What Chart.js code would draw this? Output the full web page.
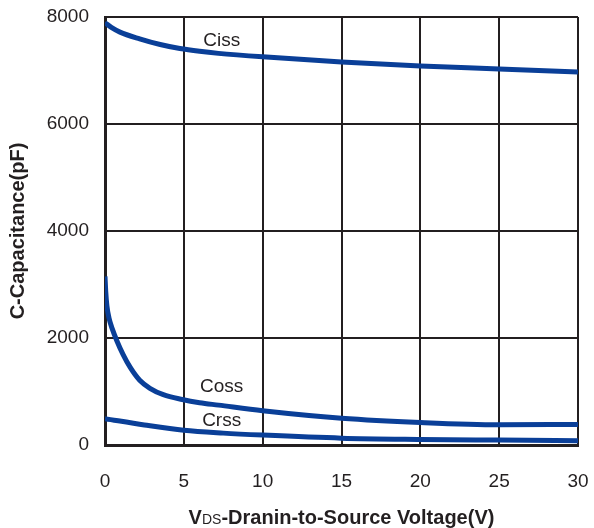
<!DOCTYPE html>
<html>
<head>
<meta charset="utf-8">
<script src="https://cdn.jsdelivr.net/npm/chart.js@4.4.1/dist/chart.umd.min.js"></script>
<style>
  html, body { margin: 0; padding: 0; background: #fff; }
  #wrap { width: 594px; height: 528px; }
</style>
</head>
<body>
<div id="wrap"><canvas id="capChart" width="594" height="528"></canvas></div>
<script>
// Capacitance vs drain-source voltage
const vdsTicks = [0, 5, 10, 15, 20, 25, 30]
const pfTicks = [0, 2000, 4000, 6000, 8000]

const cissV  = [0, 0.4, 0.95, 2.2, 3.5, 4.75, 6, 7.2, 10, 15, 20, 25, 30]
const cissPF = [7895, 7805, 7718, 7592, 7485, 7410, 7358, 7320, 7255, 7160, 7085, 7030, 6970]

const cossV  = [0, 0.05, 0.12, 0.25, 0.45, 0.75, 1.15, 1.6, 2.2, 2.85, 3.7, 4.9, 6, 7.2, 10, 15, 20, 25, 30]
const cossPF = [3150, 2850, 2600, 2380, 2180, 1950, 1690, 1450, 1210, 1060, 940, 850, 790, 745, 640, 500, 420, 378, 385]

const crssV  = [0, 2.5, 5, 7.5, 10, 15, 20, 25, 30]
const crssPF = [492, 375, 275, 222, 185, 128, 105, 92, 80]

const curveNames = ['Ciss', 'Coss', 'Crss']
const curveLabelV = [7.4, 7.4, 7.4]
const curveLabelPF = [7560, 1090, 450]

const ink = '#231f20'
const lineBlue = '#0a3f98'
const fontFamily = '"Liberation Sans", Arial, Helvetica, sans-serif'

function points(xs, ys) {
  return xs.map((v, i) => ({ x: v, y: ys[i] }))
}

function curve(data) {
  return {
    data,
    borderColor: lineBlue,
    borderWidth: 5,
    pointRadius: 0,
    fill: false,
    cubicInterpolationMode: 'monotone'
  }
}

// Curve names plus both axis titles (x title has the small "DS" part)
const annotations = {
  id: 'annotations',
  afterDraw(chart) {
    const { ctx, scales: { x, y }, chartArea } = chart
    ctx.save()
    ctx.fillStyle = ink
    ctx.textAlign = 'center'
    ctx.textBaseline = 'middle'
    ctx.font = '19px ' + fontFamily
    curveNames.forEach((name, i) => {
      ctx.fillText(name, x.getPixelForValue(curveLabelV[i]), y.getPixelForValue(curveLabelPF[i]))
    })

    // y title
    ctx.save()
    ctx.translate(18, (chartArea.top + chartArea.bottom) / 2)
    ctx.rotate(-Math.PI / 2)
    ctx.font = 'bold 20px ' + fontFamily
    ctx.fillText('C-Capacitance(pF)', 0, 0)
    ctx.restore()

    // x title
    const parts = [
      { t: 'V', f: 'bold 20px ' + fontFamily },
      { t: 'DS', f: '14px ' + fontFamily },
      { t: '-Dranin-to-Source Voltage(V)', f: 'bold 20px ' + fontFamily }
    ]
    let total = 0
    parts.forEach(p => { ctx.font = p.f; p.w = ctx.measureText(p.t).width; total += p.w })
    let px = (chartArea.left + chartArea.right) / 2 - total / 2
    ctx.textAlign = 'left'
    ctx.textBaseline = 'alphabetic'
    parts.forEach(p => {
      ctx.font = p.f
      ctx.fillText(p.t, px, 524)
      px += p.w
    })
    ctx.restore()
  }
}

new Chart(document.getElementById('capChart'), {
  type: 'line',
  data: {
    datasets: [
      curve(points(cissV, cissPF)),
      curve(points(cossV, cossPF)),
      curve(points(crssV, crssPF))
    ]
  },
  options: {
    responsive: false,
    animation: false,
    devicePixelRatio: 1,
    layout: { padding: { left: 0, top: 17, right: 16, bottom: 0 } },
    plugins: {
      legend: { display: false },
      tooltip: { enabled: false }
    },
    scales: {
      x: {
        type: 'linear',
        min: 0,
        max: 30,
        afterBuildTicks: s => { s.ticks = vdsTicks.map(v => ({ value: v })) },
        afterFit: s => {
          s.height = 83
          s.paddingLeft = 0
          s.paddingRight = 0
        },
        ticks: { color: ink, font: { size: 19, family: fontFamily }, padding: 25, maxRotation: 0, callback: v => String(v) },
        grid: { color: ink, lineWidth: 2, drawTicks: false },
        border: { color: ink, width: 3 }
      },
      y: {
        type: 'linear',
        min: 0,
        max: 8000,
        afterBuildTicks: s => { s.ticks = pfTicks.map(v => ({ value: v })) },
        afterFit: s => {
          s.width = 105
          s.paddingTop = 0
          s.paddingBottom = 0
        },
        ticks: { color: ink, font: { size: 19, family: fontFamily }, padding: 16, callback: v => String(v) },
        grid: { color: ink, lineWidth: 2, drawTicks: false },
        border: { color: ink, width: 3 }
      }
    }
  },
  plugins: [annotations]
})
</script>
</body>
</html>
